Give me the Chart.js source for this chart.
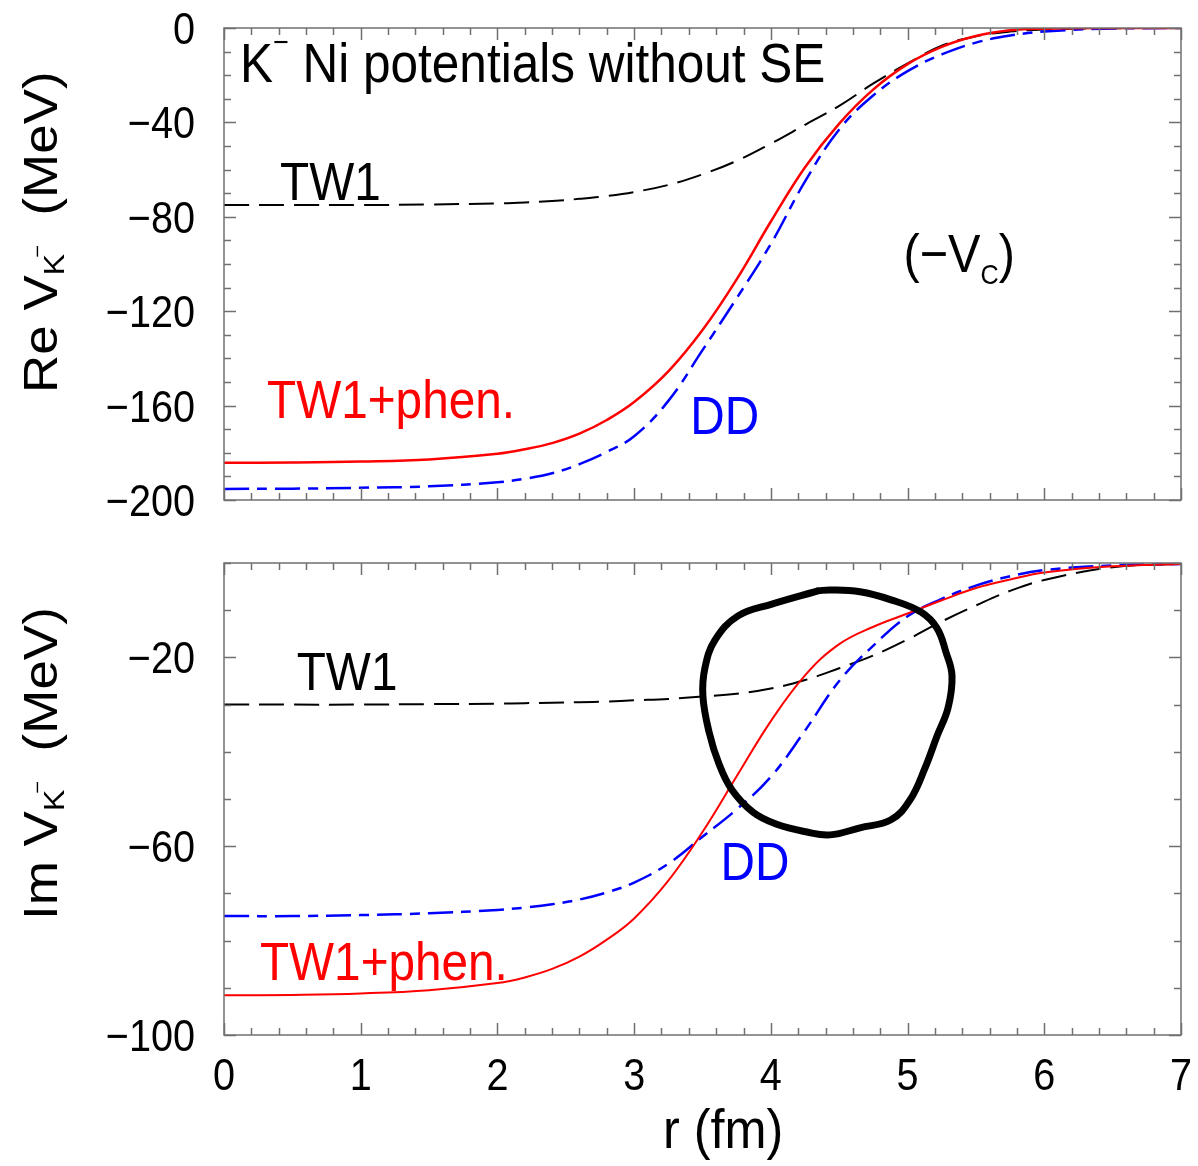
<!DOCTYPE html>
<html>
<head>
<meta charset="utf-8">
<title>K- Ni potentials without SE</title>
<script src="https://cdn.jsdelivr.net/npm/chart.js@4.4.0/dist/chart.umd.min.js"></script>
<style>
    html, body { margin: 0; padding: 0; background: #fff; }
    #wrap { position: relative; width: 1198px; height: 1166px; }
    canvas { position: absolute; left: 0; }
</style>
</head>
<body>
<div id="wrap">
    <canvas id="reChart" width="1198" height="540" style="top:0"></canvas>
    <canvas id="imChart" width="1198" height="626" style="top:540px"></canvas>
</div>
<script>
'use strict';

// ============================================================
// Data
// ============================================================
const rGrid  = [0, 0.5, 1, 1.5, 2, 2.2, 2.4, 2.6, 2.8, 3.0, 3.25, 3.5, 3.75, 4.0, 4.25, 4.5, 4.75, 5.0, 5.25, 5.5, 5.75, 6.0, 6.5, 7.0];

// Re V (MeV)
const reTW1  = [-75, -75, -75, -74.8, -74.3, -73.9, -73.3, -72.4, -71.2, -69.5, -66.5, -62, -56.3, -49, -41, -33, -23.5, -15, -7.5, -3.5, -1.5, -0.6, -0.1, 0];
const rePhen = [-184.2, -184.1, -183.7, -182.8, -180.4, -178.5, -175.9, -171.9, -166.1, -158.5, -145.5, -128, -106.5, -82, -59, -40.5, -26, -15.3, -8, -3.4, -1.0, -0.3, 0, 0];
const reDD   = [-195.3, -195.2, -194.8, -194.2, -192.5, -191, -188.7, -184.8, -179.6, -173, -158, -136.5, -114.5, -91.5, -65, -43, -28.5, -18.3, -11.2, -6.2, -3.2, -1.5, -0.2, 0];

// Im V (MeV)
const imTW1  = [-30, -30, -30, -29.9, -29.8, -29.7, -29.6, -29.5, -29.35, -29.1, -28.8, -28.3, -27.7, -26.6, -24.8, -22.3, -19.6, -16.2, -12.4, -9, -5.9, -3.6, -0.9, -0.2];
const imPhen = [-91.6, -91.5, -91.2, -90.5, -89, -87.8, -86.0, -83.4, -79.8, -75.3, -67.3, -57, -45.2, -33.5, -23.8, -17.2, -13.5, -10.7, -7.9, -5.3, -3.5, -2, -0.7, -0.2];
const imDD   = [-74.8, -74.8, -74.6, -74.2, -73.5, -73.0, -72.3, -71.3, -69.8, -67.7, -63.7, -58, -52.2, -45.3, -35.5, -25, -17.5, -11.3, -7.6, -4.8, -2.8, -1.5, -0.5, -0.2];

// hand-drawn loop on the lower panel
const loopR = [4.345, 4.008, 3.760, 3.592, 3.518, 3.503, 3.548, 3.621, 3.716, 3.870, 4.038, 4.264, 4.433, 4.652, 4.879, 5.018, 5.128, 5.215, 5.296, 5.325, 5.281, 5.215, 5.098, 4.879, 4.652, 4.433, 4.345];
const loopV = [-5.9, -8.7, -11.2, -16.3, -22.2, -28.2, -35.8, -42.6, -48.1, -52.8, -55.3, -57.0, -57.6, -56.1, -54.4, -50.2, -43.4, -36.7, -30.7, -23.9, -18.9, -13.8, -10.4, -7.8, -6.1, -5.7, -5.9];

// tick labels
const xTicks   = [0, 1, 2, 3, 4, 5, 6, 7];
const reYTicks = [0, -40, -80, -120, -160, -200];
const imYTicks = [-20, -60, -100];

// ============================================================
// Helpers
// ============================================================
const FONT  = '"Liberation Sans", Arial, Helvetica, sans-serif';
const SX    = 0.9;           // figure is slightly squeezed horizontally
const FRAME = '#707070';

const pts = (xs, ys) => xs.map((x, i) => ({ x, y: ys[i] }));

// draw runs of text: parts = [{t, size, dy}]
function drawParts(ctx, x, y, parts, color, rotate) {
    ctx.save();
    ctx.translate(x, y);
    if (rotate) { ctx.rotate(-Math.PI / 2); ctx.scale(1, SX); }
    else ctx.scale(SX, 1);
    ctx.fillStyle = color || '#000';
    ctx.textBaseline = 'alphabetic';
    ctx.textAlign = 'left';
    let cx = 0;
    parts.forEach(p => {
        ctx.font = p.size + 'px ' + FONT;
        ctx.fillText(p.t, cx + (p.dx || 0), p.dy || 0);
        cx += ctx.measureText(p.t).width + (p.dx || 0);
    });
    ctx.restore();
}

function line(ds, color, width, dash) {
    return {
        data: ds, borderColor: color, borderWidth: width, borderDash: dash || [],
        showLine: true, pointRadius: 0, tension: 0.4, fill: false, order: 1
    };
}

// frame + inward ticks on all four sides, tick labels
function frameTicks(opts) {
    return {
        id: 'frameTicks',
        afterDraw(chart) {
            const { ctx, chartArea: a, scales: { x, y } } = chart;
            ctx.save();
            ctx.strokeStyle = FRAME;
            ctx.lineWidth = 1.5;
            ctx.strokeRect(a.left, a.top, a.right - a.left, a.bottom - a.top);

            ctx.beginPath();
            for (let i = 0; i <= 35; i++) {
                const v = i * 0.2;
                const px = Math.round(x.getPixelForValue(v)) + 0.5;
                const len = (i % 5 === 0) ? 12 : 7;
                ctx.moveTo(px, a.bottom); ctx.lineTo(px, a.bottom - len);
                ctx.moveTo(px, a.top);    ctx.lineTo(px, a.top + len);
            }
            for (let v = opts.yMin; v <= opts.yMax; v += 10) {
                const py = Math.round(y.getPixelForValue(v)) + 0.5;
                const len = opts.yMajor.includes(v) ? 12 : 7;
                ctx.moveTo(a.left, py);  ctx.lineTo(a.left + len, py);
                ctx.moveTo(a.right, py); ctx.lineTo(a.right - len, py);
            }
            ctx.stroke();

            // y tick labels
            ctx.fillStyle = '#000';
            ctx.font = '44px ' + FONT;
            opts.yLabels.forEach(v => {
                const py = y.getPixelForValue(v);
                ctx.save();
                ctx.translate(a.left - 29, py + 16);
                ctx.scale(SX, 1);
                ctx.textAlign = 'right';
                ctx.fillText(v === 0 ? '0' : '\u2212' + Math.abs(v), 0, 0);
                ctx.restore();
            });

            // x tick labels
            if (opts.xLabels) {
                opts.xLabels.forEach(v => {
                    const px = x.getPixelForValue(v);
                    ctx.save();
                    ctx.translate(px, a.bottom + 55);
                    ctx.scale(SX, 1);
                    ctx.textAlign = 'center';
                    ctx.fillText(String(v), 0, 0);
                    ctx.restore();
                });
            }
            ctx.restore();
        }
    };
}

// text annotations anchored in data coordinates
function notes(list) {
    return {
        id: 'notes',
        afterDraw(chart) {
            const { ctx, scales: { x, y } } = chart;
            list.forEach(n => {
                const px = n.px != null ? n.px : x.getPixelForValue(n.r);
                const py = n.py != null ? n.py : y.getPixelForValue(n.v);
                drawParts(ctx, px, py, n.parts, n.color, n.rotate);
            });
        }
    };
}

function baseOptions(yMin, yMax, padBottom, padTop) {
    return {
        responsive: false,
        animation: false,
        layout: { padding: { left: 224, right: 17, top: padTop, bottom: padBottom } },
        plugins: { legend: { display: false }, tooltip: { enabled: false } },
        scales: {
            x: { type: 'linear', min: 0, max: 7, display: false },
            y: { type: 'linear', min: yMin, max: yMax, display: false }
        }
    };
}

// ============================================================
// Top panel: Re V
// ============================================================
new Chart(document.getElementById('reChart'), {
    type: 'scatter',
    data: {
        datasets: [
            line(pts(rGrid, rePhen), '#ff0000', 2.5),
            line(pts(rGrid, reDD),   '#0000ff', 2.5, [25, 8, 10, 8]),
            line(pts(rGrid, reTW1),  '#000000', 2,   [25, 10])
        ]
    },
    options: baseOptions(-200, 0, 40, 28),
    plugins: [
        frameTicks({ yMin: -200, yMax: 0, yMajor: reYTicks, yLabels: reYTicks }),
        notes([
            { r: 0.117, v: -22.9, parts: [{ t: 'K', size: 55 }, { t: '\u2212', size: 30, dy: -30 }, { t: ' Ni potentials without SE', size: 55 }] },
            { r: 0.41,  v: -72.9, parts: [{ t: 'TW1', size: 53 }] },
            { r: 0.315, v: -165.3, color: '#ff0000', parts: [{ t: 'TW1+phen.', size: 53 }] },
            { r: 3.41,  v: -172.0, color: '#0000ff', parts: [{ t: 'DD', size: 53 }] },
            { r: 4.97,  v: -103.4, parts: [{ t: '(\u2212V', size: 54 }, { t: 'C', size: 28, dy: 12 }, { t: ')', size: 54 }] },
            { px: 57, py: 393, rotate: true, parts: [
                { t: 'Re V', size: 53 }, { t: 'K', size: 32, dy: 8 }, { t: '\u2212', size: 22, dy: -14, dx: -4 },
                { t: '  (MeV)', size: 53 }] }
        ])
    ]
});

// ============================================================
// Bottom panel: Im V
// ============================================================
new Chart(document.getElementById('imChart'), {
    type: 'scatter',
    data: {
        datasets: [
            {
                data: pts(loopR, loopV), borderColor: '#000', borderWidth: 7, showLine: true,
                pointRadius: 0, tension: 0.4, borderCapStyle: 'round', borderJoinStyle: 'round', order: 0
            },
            line(pts(rGrid, imPhen), '#ff0000', 2),
            line(pts(rGrid, imDD),   '#0000ff', 2.5, [25, 8, 10, 8]),
            line(pts(rGrid, imTW1),  '#000000', 2,   [25, 10])
        ]
    },
    options: baseOptions(-100, 0, 131, 23),
    plugins: [
        frameTicks({ yMin: -100, yMax: 0, yMajor: imYTicks, yLabels: imYTicks, xLabels: xTicks }),
        notes([
            { r: 0.532, v: -26.9, parts: [{ t: 'TW1', size: 53 }] },
            { r: 3.632, v: -67.2, color: '#0000ff', parts: [{ t: 'DD', size: 53 }] },
            { r: 0.263, v: -88.3, color: '#ff0000', parts: [{ t: 'TW1+phen.', size: 53 }] },
            { px: 57, py: 380, rotate: true, parts: [
                { t: 'Im V', size: 53 }, { t: 'K', size: 32, dy: 8 }, { t: '\u2212', size: 22, dy: -14, dx: -4 },
                { t: '  (MeV)', size: 53 }] },
            { px: 663, py: 608, parts: [{ t: 'r (fm)', size: 56 }] }
        ])
    ]
});
</script>
</body>
</html>
